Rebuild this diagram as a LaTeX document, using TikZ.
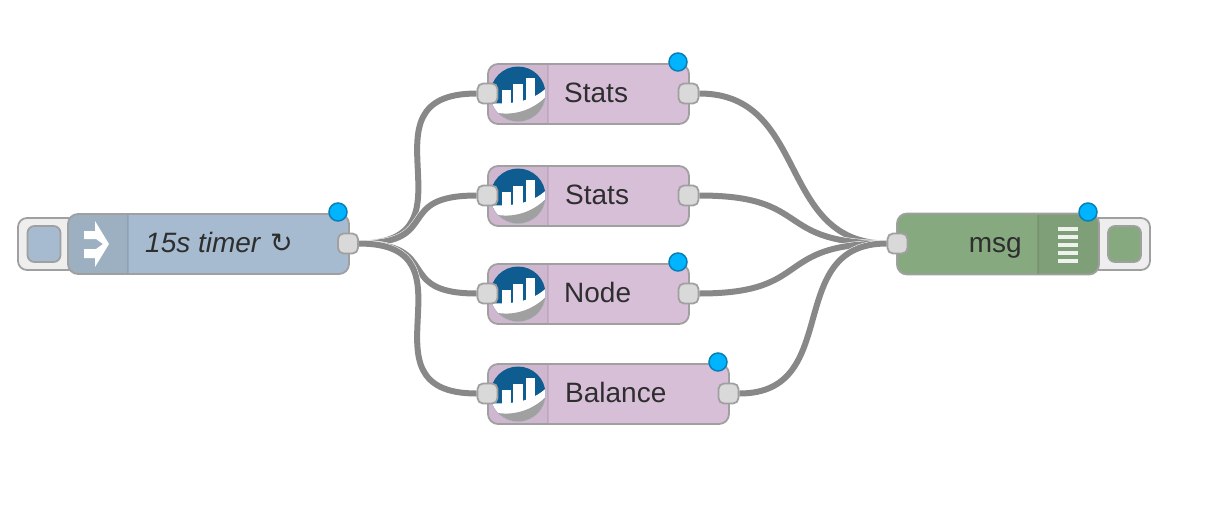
\documentclass[tikz,border=0pt]{standalone}
\usepackage{fontspec}
\usetikzlibrary{backgrounds}
\setmainfont{Liberation Sans}
\newfontfamily\symfont{DejaVu Sans}
\definecolor{edge}{HTML}{A0A0A0}
\definecolor{wirecol}{HTML}{888888}
\definecolor{portfill}{HTML}{D9D9D9}
\definecolor{tabfill}{HTML}{EEEEEE}
\definecolor{timerfill}{HTML}{A6BBCF}
\definecolor{statsfill}{HTML}{D8BFD8}
\definecolor{msgfill}{HTML}{87A980}
\definecolor{dotfill}{HTML}{00B4FF}
\definecolor{dotedge}{HTML}{0A7FB5}
\definecolor{iconblue}{HTML}{0F5C91}
\newcommand{\statsicon}[1]{
	\begin{scope}[shift={(#1)}]
	\fill [black,opacity=0.04] (0,-29) {[rounded corners=9] -- (-59,-29) -- (-59,29)} -- (0,29) -- cycle;
	\draw [black,opacity=0.08,line width=1.5] (0,-29) -- (0,29);
	\begin{scope}
	\clip (-30,0) circle (27.5);
	\fill [iconblue] (-60,-30) rectangle (2,30);
	\fill [white] (-60,30) -- (-60,9) .. controls (-35,11) and (-12,7) .. (2,-10) -- (2,30) -- cycle;
	\fill [edge] (-60,30) -- (-55,18) .. controls (-35,23) and (-12,16) .. (2,-2) -- (2,30) -- cycle;
	\fill [white] (-46,-4) rectangle (-37,13);
	\fill [white] (-35,-10) rectangle (-25,13);
	\fill [white] (-22,-16) rectangle (-13,10);
	\end{scope}
	\end{scope}
}
\tikzset{
	body/.style={draw=edge, line width=1.8, rounded corners=10, inner sep=0pt},
	tabbox/.style={draw=edge, line width=1.8, fill=tabfill, rounded corners=9, inner sep=0pt, minimum height=52},
	button/.style={draw=edge, line width=1.8, rounded corners=7, inner sep=0pt, minimum width=33, minimum height=36},
	port/.style={draw=edge, line width=1.8, fill=portfill, rounded corners=5.5, inner sep=0pt, minimum size=20},
	dot/.style={circle, draw=dotedge, line width=1.5, fill=dotfill, inner sep=0pt, minimum size=18},
	wire/.style={draw=wirecol, line width=6, preaction={draw=white, line width=7}},
	label/.style={inner sep=0pt, text=black!82, font=\fontsize{28}{30}\selectfont}
}
\begin{document}
\begin{tikzpicture}[x=1pt,y=-1pt]
	\useasboundingbox (0,0) rectangle (1220,512);
	% tabs behind the flow nodes
	\node [tabbox, minimum width=60] (tabl) at (48,244) {};
	\node [tabbox, minimum width=60] (tabr) at (1120,244) {};
	\node [button, fill=timerfill] (btnl) at (44,244) {};
	\node [button, fill=msgfill] (btnr) at (1124.5,244) {};
	% nodes
	\node [body, fill=timerfill, minimum width=281, minimum height=60] (timer) at (208.5,244) {};
	\node [body, fill=statsfill, minimum width=201, minimum height=60] (statsa) at (588.5,94) {};
	\node [body, fill=statsfill, minimum width=201, minimum height=60] (statsb) at (588.5,196) {};
	\node [body, fill=statsfill, minimum width=201, minimum height=60] (nodec) at (588.5,294) {};
	\node [body, fill=statsfill, minimum width=241, minimum height=60] (balance) at (608.5,394) {};
	\node [body, fill=msgfill, minimum width=202, minimum height=61] (msg) at (998,244) {};
	% icons
	\statsicon{548,94}
	\statsicon{548,196}
	\statsicon{548,294}
	\statsicon{548,394}
	% ports
	\node [port] (timerout) at (348,243.5) {};
	\node [port] (statsain) at (487.5,93.5) {};
	\node [port] (statsaout) at (688.5,93.5) {};
	\node [port] (statsbin) at (487.5,195.5) {};
	\node [port] (statsbout) at (688.5,195.5) {};
	\node [port] (nodecin) at (487.5,293.5) {};
	\node [port] (nodecout) at (688.5,293.5) {};
	\node [port] (balancein) at (487.5,393.5) {};
	\node [port] (balanceout) at (728.5,393.5) {};
	\node [port] (msgin) at (897.5,243.5) {};
	% wires
	\begin{scope}[on background layer]
	\draw [wire] (timerout.east) .. controls +(125,0) and +(-125,0) .. (statsain.west);
	\draw [wire] (timerout.east) .. controls +(85,0) and +(-85,0) .. (statsbin.west);
	\draw [wire] (timerout.east) .. controls +(85,0) and +(-85,0) .. (nodecin.west);
	\draw [wire] (timerout.east) .. controls +(125,0) and +(-125,0) .. (balancein.west);
	\draw [wire] (statsaout.east) .. controls +(110,0) and +(-110,0) .. (msgin.west);
	\draw [wire] (statsbout.east) .. controls +(115,0) and +(-115,0) .. (msgin.west);
	\draw [wire] (nodecout.east) .. controls +(115,0) and +(-115,0) .. (msgin.west);
	\draw [wire] (balanceout.east) .. controls +(105,0) and +(-105,0) .. (msgin.west);
	\end{scope}
	% timer icon
	\fill [black,opacity=0.06] (128,215) {[rounded corners=9] -- (69,215) -- (69,273)} -- (128,273) -- cycle;
	\draw [black,opacity=0.08,line width=1.5] (128,215) -- (128,273);
	\fill [white] (84,231) -- (95,231) -- (95,221) -- (109,244) -- (103,244) -- (96,239) -- (84,239) -- cycle;
	\fill [white] (84,249) -- (96,249) -- (103,244) -- (109,244) -- (95,267) -- (95,258) -- (84,258) -- cycle;
	% msg icon
	\fill [black,opacity=0.06] (1038,214.5) {[rounded corners=9] -- (1098,214.5) -- (1098,273.5)} -- (1038,273.5) -- cycle;
	\draw [black,opacity=0.08,line width=1.5] (1038,214.5) -- (1038,273.5);
	\foreach \y in {227,235,243,251,259}
		\fill [white!85!msgfill] (1058,\y) rectangle (1078,\y+3.5);
	% labels
	\node [label, anchor=base west, font=\fontsize{28}{30}\selectfont\itshape] (timertxt) at (145,252) {15s timer};
	\node [label, anchor=base west] (refresh) at (270,252) {\symfont\fontsize{27}{30}\selectfont ↻};
	\node [label, anchor=base west] (statsatxt) at (564,102) {Stats};
	\node [label, anchor=base west] (statsbtxt) at (565,204) {Stats};
	\node [label, anchor=base west] (nodetxt) at (564,302) {Node};
	\node [label, anchor=base west] (baltxt) at (565,402) {Balance};
	\node [label, anchor=base east] (msgtxt) at (1022,252) {msg};
	% status dots
	\node [dot] (dota) at (338,212) {};
	\node [dot] (dotb) at (678,62) {};
	\node [dot] (dotc) at (678,262) {};
	\node [dot] (dotd) at (718,362) {};
	\node [dot] (dote) at (1088,212) {};
\end{tikzpicture}
\end{document}
